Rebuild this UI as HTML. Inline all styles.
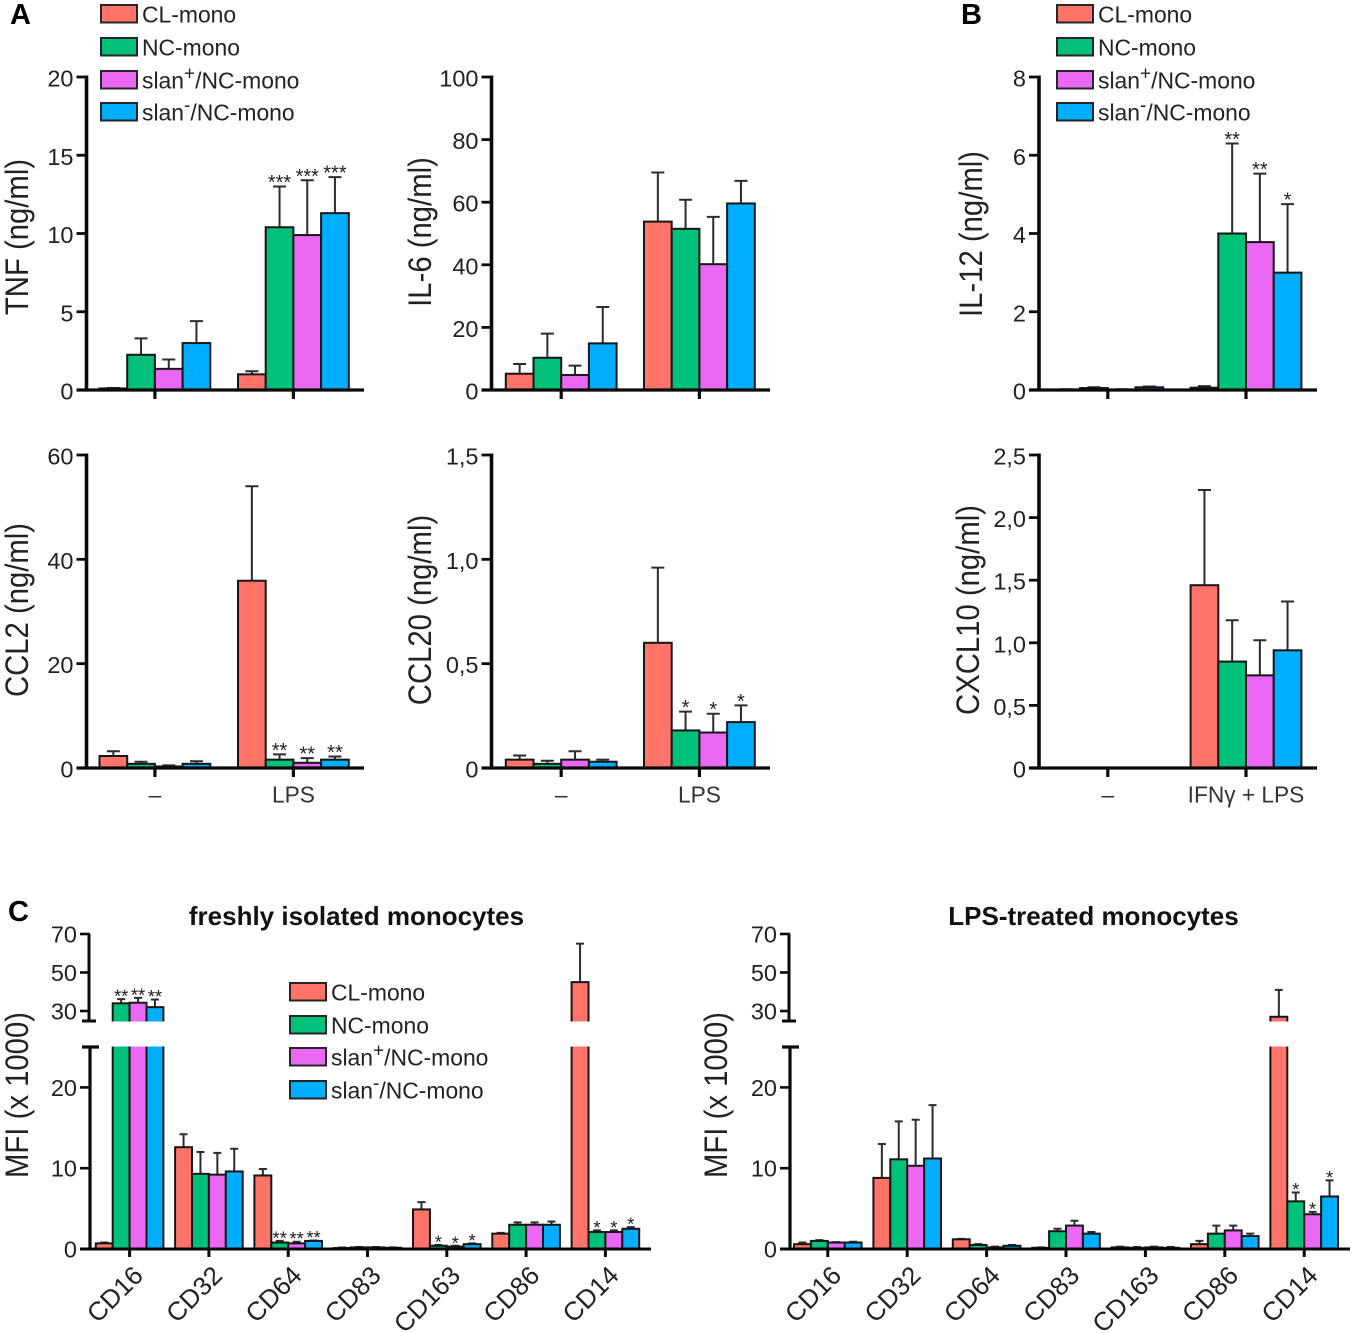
<!DOCTYPE html>
<html lang="en">
<head>
<meta charset="utf-8">
<title>Monocyte cytokine and MFI bar charts</title>
<style>
html,body{margin:0;padding:0;background:#fff}
svg{display:block}
text{font-family:"Liberation Sans",Arial,sans-serif;fill:#222}
</style>
</head>
<body>
<svg id="fig" width="1358" height="1333" viewBox="0 0 1358 1333" xmlns="http://www.w3.org/2000/svg">
  <rect width="1358" height="1333" fill="#fff"/>
  <text x="10" y="24" font-size="29" font-weight="bold" style="fill:#000">A</text>
  <text x="961" y="24" font-size="29" font-weight="bold" style="fill:#000">B</text>
  <text x="8" y="921" font-size="29" font-weight="bold" style="fill:#000">C</text>
  <text x="356.500" y="925" font-size="26" font-weight="bold" text-anchor="middle" style="fill:#111">freshly isolated monocytes</text>
  <text x="1093.500" y="925" font-size="26" font-weight="bold" text-anchor="middle" style="fill:#111">LPS-treated monocytes</text>
</svg>
<script>
// ---------- shared series ----------
const seriesNames = ['CL-mono', 'NC-mono', 'slan+/NC-mono', 'slan-/NC-mono'];
const seriesColors = ['#FF7369', '#00C07A', '#EB68F5', '#00AEFF'];

// ---------- panel A / B data (two groups x four series) ----------
const tnfValues = [[0.1, 2.25, 1.35, 3.0], [1.0, 10.4, 9.9, 11.3]];
const tnfErrTops = [[0.13, 3.3, 1.95, 4.4], [1.2, 13.0, 13.4, 13.6]];
const tnfSig = [['', '', '', ''], ['', '***', '***', '***']];
const tnfTickValues = [0, 5, 10, 15, 20];
const tnfTickLabels = ['0', '5', '10', '15', '20'];

const il6Values = [[5.2, 10.3, 4.8, 14.9], [53.8, 51.5, 40.2, 59.6]];
const il6ErrTops = [[8.3, 18.0, 7.8, 26.5], [69.5, 60.8, 55.3, 66.8]];
const il6Sig = [['', '', '', ''], ['', '', '', '']];
const il6TickValues = [0, 20, 40, 60, 80, 100];
const il6TickLabels = ['0', '20', '40', '60', '80', '100'];

const il12Values = [[0.01, 0.05, 0.01, 0.07], [0.06, 4.0, 3.78, 3.0]];
const il12ErrTops = [[0.02, 0.07, 0.02, 0.09], [0.1, 6.3, 5.53, 4.75]];
const il12Sig = [['', '', '', ''], ['', '**', '**', '*']];
const il12TickValues = [0, 2, 4, 6, 8];
const il12TickLabels = ['0', '2', '4', '6', '8'];

const ccl2Values = [[2.3, 0.8, 0.3, 0.8], [35.9, 1.6, 1.0, 1.6]];
const ccl2ErrTops = [[3.2, 1.2, 0.5, 1.3], [54.0, 2.6, 1.9, 2.2]];
const ccl2Sig = [['', '', '', ''], ['', '**', '**', '**']];
const ccl2TickValues = [0, 20, 40, 60];
const ccl2TickLabels = ['0', '20', '40', '60'];

const ccl20Values = [[0.04, 0.02, 0.04, 0.03], [0.6, 0.18, 0.17, 0.22]];
const ccl20ErrTops = [[0.06, 0.035, 0.08, 0.04], [0.96, 0.27, 0.26, 0.3]];
const ccl20Sig = [['', '', '', ''], ['', '*', '*', '*']];
const ccl20TickValues = [0, 0.5, 1.0, 1.5];
const ccl20TickLabels = ['0', '0,5', '1,0', '1,5'];

const cxcl10Values = [[0, 0, 0, 0], [1.46, 0.85, 0.74, 0.94]];
const cxcl10ErrTops = [[0, 0, 0, 0], [2.22, 1.18, 1.02, 1.33]];
const cxcl10Sig = [['', '', '', ''], ['', '', '', '']];
const cxcl10TickValues = [0, 0.5, 1.0, 1.5, 2.0, 2.5];
const cxcl10TickLabels = ['0', '0,5', '1,0', '1,5', '2,0', '2,5'];

const lpsGroups = ['–', 'LPS'];
const ifnGroups = ['–', 'IFNγ + LPS'];

// ---------- panel C data ----------
const markers = ['CD16', 'CD32', 'CD64', 'CD83', 'CD163', 'CD86', 'CD14'];
const mfiTickValues = [0, 10, 20, 30, 50, 70];
const mfiTickLabels = ['0', '10', '20', '30', '50', '70'];

const freshValues = [
  [0.7, 34.0, 34.3, 32.0],
  [12.6, 9.3, 9.2, 9.6],
  [9.1, 0.8, 0.7, 1.0],
  [0.12, 0.2, 0.2, 0.15],
  [4.9, 0.4, 0.3, 0.6],
  [1.9, 3.0, 3.0, 3.0],
  [45.0, 2.1, 2.1, 2.5]
];
const freshErrTops = [
  [0.8, 36.2, 36.8, 36.0],
  [14.2, 12.0, 11.9, 12.4],
  [9.9, 1.0, 0.9, 1.05],
  [0.18, 0.25, 0.25, 0.2],
  [5.8, 0.5, 0.4, 0.7],
  [2.0, 3.3, 3.3, 3.4],
  [65.0, 2.3, 2.3, 2.7]
];
const freshSig = [
  ['', '**', '**', '**'],
  ['', '', '', ''],
  ['', '**', '**', '**'],
  ['', '', '', ''],
  ['', '*', '*', '*'],
  ['', '', '', ''],
  ['', '*', '*', '*']
];

const lpsValues = [
  [0.6, 1.0, 0.8, 0.8],
  [8.8, 11.1, 10.3, 11.2],
  [1.2, 0.5, 0.2, 0.4],
  [0.15, 2.2, 2.9, 1.9],
  [0.2, 0.15, 0.2, 0.15],
  [0.6, 1.9, 2.3, 1.6],
  [27.0, 5.9, 4.3, 6.5]
];
const lpsErrTops = [
  [0.8, 1.1, 0.85, 0.9],
  [13.0, 15.8, 16.0, 17.8],
  [1.25, 0.6, 0.3, 0.5],
  [0.2, 2.5, 3.5, 2.1],
  [0.3, 0.25, 0.3, 0.25],
  [1.0, 2.9, 2.9, 1.9],
  [41.0, 7.0, 4.6, 8.5]
];
const lpsSig = [
  ['', '', '', ''],
  ['', '', '', ''],
  ['', '', '', ''],
  ['', '', '', ''],
  ['', '', '', ''],
  ['', '', '', ''],
  ['', '*', '*', '*']
];

// ---------- drawing ----------
const NS = 'http://www.w3.org/2000/svg';
const fig = document.getElementById('fig');
const AXIS = '#0a0a0a';
const EDGE = '#161616';
const ERR = '#2c2c2c';

function mk(tag, parent, attrs, txt) {
  const el = document.createElementNS(NS, tag);
  for (const k in attrs) el.setAttribute(k, attrs[k]);
  if (txt !== undefined) el.textContent = txt;
  parent.appendChild(el);
  return el;
}
function slug(s) {
  return s.toLowerCase().replace(/[^a-z0-9]+/g, '-').replace(/^-|-$/g, '');
}

function drawMarks(g, o, xOf, yOf, baseY) {
  o.values.forEach(function (groupVals, gi) {
    groupVals.forEach(function (v, si) {
      if (v <= 0) return;
      const x = xOf(gi, si);
      const top = o.errTops[gi][si];
      const cx = x + o.bw / 2;
      const err = mk('path', g, {
        d: 'M' + cx + ' ' + yOf(v) + 'V' + yOf(top) + 'M' + (cx - o.cap) + ' ' + yOf(top) + 'H' + (cx + o.cap),
        stroke: ERR, 'stroke-width': 2, fill: 'none'
      });
      
      
      const bar = mk('rect', g, {
        x: x, y: yOf(v), width: o.bw, height: Math.max(baseY - yOf(v), 0),
        fill: seriesColors[si], stroke: EDGE, 'stroke-width': 2
      });
      
      
      const mark = o.sig[gi][si];
      if (mark) {
        const st = mk('text', g, {
          x: cx, y: yOf(top) + o.starOffset, 'font-size': o.starSize, 'text-anchor': 'middle'
        }, mark);
        
        
      }
    });
  });
}

function drawCytokine(o) {
  o.starSize = 20;
  o.starOffset = 2.5;
  const g = mk('g', fig, {});
  
  
  const top = o.yBase - 313;
  const yMax = o.tickValues[o.tickValues.length - 1];
  const yOf = function (v) { return o.yBase - v / yMax * 313; };
  const xOf = function (gi, si) { return o.start + gi * o.pitch + si * o.bw; };
  drawMarks(g, o, xOf, yOf, o.yBase);

  const yAxis = mk('line', g, { x1: o.axisX, x2: o.axisX, y1: top - 1.5, y2: o.yBase + 1.5, stroke: AXIS, 'stroke-width': 3.6 });
  
  
  const xAxis = mk('line', g, { x1: o.axisX - 10, x2: o.xEnd, y1: o.yBase, y2: o.yBase, stroke: AXIS, 'stroke-width': 3.2 });
  
  

  o.tickValues.forEach(function (v, i) {
    const y = yOf(v);
    const tk = mk('line', g, { x1: o.axisX - 10, x2: o.axisX, y1: y, y2: y, stroke: AXIS, 'stroke-width': 2.8 });
    
    
    const lb = mk('text', g, { x: o.axisX - 13, y: y + 9.5, 'font-size': 23.5, 'text-anchor': 'end' }, o.tickLabels[i]);
    
    
  });
  o.groups.forEach(function (name, gi) {
    const cx = xOf(gi, 2);
    const tk = mk('line', g, { x1: cx, x2: cx, y1: o.yBase, y2: o.yBase + 9, stroke: AXIS, 'stroke-width': 3.2 });
    
    
    if (o.showGroups) {
      const lb = mk('text', g, { x: cx, y: o.yBase + 34.5, 'font-size': 22.7, 'text-anchor': 'middle', style: 'fill:#333' }, name);
      
      
    }
  });
  const title = mk('text', g, {
    'font-size': 29.3, 'text-anchor': 'middle',
    transform: 'translate(' + o.titleX + ' ' + o.titleY + ') rotate(-90) scale(1 1.1)'
  }, o.name + ' (ng/ml)');
  
  
}

function drawMfi(o) {
  o.starSize = 18.5;
  o.starOffset = 3.5;
  const g = mk('g', fig, {});
  
  
  const base = 1249;
  const yOf = function (v) {
    return v <= 25 ? base - v * 8.08 : 1011 - (v - 30) * 1.925;
  };
  const xOf = function (gi, si) { return o.start + gi * o.pitch + si * o.bw; };
  drawMarks(g, o, xOf, yOf, base);

  const gap = mk('rect', g, { x: o.axisX + 3, y: 1021.500, width: o.xEnd - o.axisX, height: 25, fill: '#fff' });
  
  

  const upper = mk('path', g, {
    d: 'M' + (o.axisX - 1) + ' 934V1021M' + (o.axisX - 8) + ' 1021H' + (o.axisX + 6),
    stroke: AXIS, 'stroke-width': 3, fill: 'none'
  });
  
  
  const lower = mk('path', g, {
    d: 'M' + o.axisX + ' ' + (base + 1) + 'V1047M' + (o.axisX - 8) + ' 1047H' + (o.axisX + 9),
    stroke: AXIS, 'stroke-width': 3.2, fill: 'none'
  });
  
  
  const xAxis = mk('line', g, { x1: o.axisX - 10, x2: o.xEnd, y1: base, y2: base, stroke: AXIS, 'stroke-width': 3 });
  
  

  mfiTickValues.forEach(function (v, i) {
    const y = yOf(v);
    const tk = mk('line', g, { x1: o.axisX - 10, x2: o.axisX, y1: y, y2: y, stroke: AXIS, 'stroke-width': 2.6 });
    
    
    const lb = mk('text', g, { x: o.axisX - 13, y: y + 8.5, 'font-size': 23.5, 'text-anchor': 'end' }, mfiTickLabels[i]);
    
    
  });
  o.groups.forEach(function (name, gi) {
    const cx = xOf(gi, 2);
    const tk = mk('line', g, { x1: cx, x2: cx, y1: base, y2: base + 8, stroke: AXIS, 'stroke-width': 3 });
    
    
    const lb = mk('text', g, {
      'font-size': 26, 'text-anchor': 'end',
      transform: 'translate(' + (cx + 15) + ' 1277) rotate(-45)'
    }, name);
    
    
  });
  const title = mk('text', g, {
    'font-size': 29.3, 'text-anchor': 'middle',
    transform: 'translate(' + o.titleX + ' 1095) rotate(-90) scale(1 1.1)'
  }, 'MFI (x 1000)');
  
  
}

function drawLegend(name, sx, tx, rows) {
  const g = mk('g', fig, {});
  
  
  seriesNames.forEach(function (s, i) {
    const y = rows[i];
    const sw = mk('rect', g, { x: sx, y: y - 9, width: 36, height: 17.500, fill: seriesColors[i], stroke: '#262626', 'stroke-width': 2 });
    
    
    const t = mk('text', g, { x: tx, y: y + 8.5, 'font-size': 22.9 });
    
    
    const m = s.match(/^slan([+-])(.*)$/);
    if (m) {
      t.appendChild(document.createTextNode('slan'));
      mk('tspan', t, { dy: -9, 'font-size': 19 }, m[1]);
      mk('tspan', t, { dy: 9 }, m[2]);
    } else {
      t.textContent = s;
    }
  });
}

drawCytokine({ name: 'TNF', values: tnfValues, errTops: tnfErrTops, sig: tnfSig, tickValues: tnfTickValues, tickLabels: tnfTickLabels, groups: lpsGroups, showGroups: false, axisX: 86.5, start: 99.5, pitch: 138.5, bw: 27.7, cap: 6.5, xEnd: 364, yBase: 390, titleX: 28, titleY: 237 });
drawCytokine({ name: 'IL-6', values: il6Values, errTops: il6ErrTops, sig: il6Sig, tickValues: il6TickValues, tickLabels: il6TickLabels, groups: lpsGroups, showGroups: false, axisX: 491.5, start: 505.8, pitch: 138.2, bw: 27.7, cap: 6.5, xEnd: 770, yBase: 390, titleX: 431, titleY: 232 });
drawCytokine({ name: 'IL-12', values: il12Values, errTops: il12ErrTops, sig: il12Sig, tickValues: il12TickValues, tickLabels: il12TickLabels, groups: ifnGroups, showGroups: false, axisX: 1039, start: 1052.4, pitch: 138.2, bw: 27.7, cap: 6.5, xEnd: 1317, yBase: 390, titleX: 982, titleY: 234 });
drawCytokine({ name: 'CCL2', values: ccl2Values, errTops: ccl2ErrTops, sig: ccl2Sig, tickValues: ccl2TickValues, tickLabels: ccl2TickLabels, groups: lpsGroups, showGroups: true, axisX: 86.5, start: 99.5, pitch: 138.5, bw: 27.7, cap: 6.5, xEnd: 364, yBase: 768, titleX: 28, titleY: 610 });
drawCytokine({ name: 'CCL20', values: ccl20Values, errTops: ccl20ErrTops, sig: ccl20Sig, tickValues: ccl20TickValues, tickLabels: ccl20TickLabels, groups: lpsGroups, showGroups: true, axisX: 491.5, start: 505.8, pitch: 138.2, bw: 27.7, cap: 6.5, xEnd: 770, yBase: 768, titleX: 431, titleY: 610 });
drawCytokine({ name: 'CXCL10', values: cxcl10Values, errTops: cxcl10ErrTops, sig: cxcl10Sig, tickValues: cxcl10TickValues, tickLabels: cxcl10TickLabels, groups: ifnGroups, showGroups: true, axisX: 1039, start: 1052.4, pitch: 138.2, bw: 27.7, cap: 6.5, xEnd: 1317, yBase: 768, titleX: 979, titleY: 610 });

drawMfi({ name: 'MFI fresh', values: freshValues, errTops: freshErrTops, sig: freshSig, groups: markers, axisX: 90, start: 95.8, pitch: 79.3, bw: 16.9, cap: 4, xEnd: 651, titleX: 28 });
drawMfi({ name: 'MFI LPS', values: lpsValues, errTops: lpsErrTops, sig: lpsSig, groups: markers, axisX: 790, start: 794, pitch: 79.4, bw: 16.9, cap: 4, xEnd: 1350, titleX: 727 });

const legendRowsTop = [14, 47, 80, 112];
const legendRowsMid = [992, 1025, 1057, 1090];
drawLegend('legend-panel-a', 101, 142, legendRowsTop);
drawLegend('legend-panel-b', 1057, 1098, legendRowsTop);
drawLegend('legend-panel-c', 290, 331, legendRowsMid);
</script>
</body>
</html>
